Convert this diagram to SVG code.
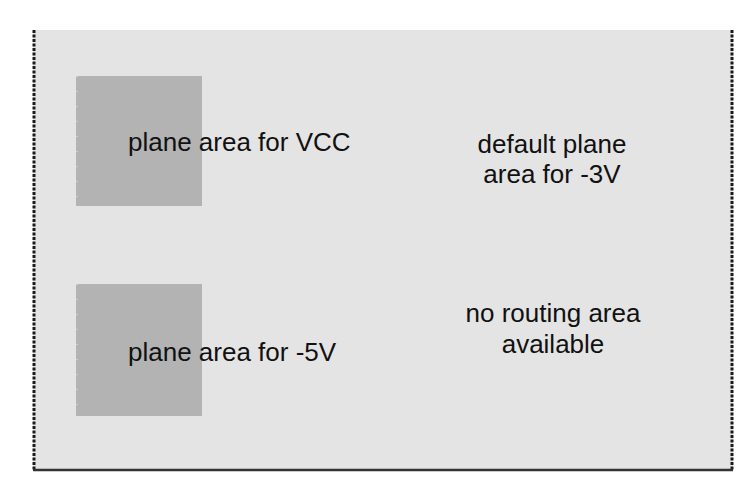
<svg xmlns="http://www.w3.org/2000/svg" width="755" height="502" viewBox="0 0 755 502">
<style>
.lbl{font-family:"Liberation Sans",Arial,sans-serif;font-size:26px;fill:#111}
.plane{fill:#b3b3b3}
.edge{stroke:#1a1a1a;stroke-width:3;stroke-dasharray:3 1.5;fill:none}
</style>
<rect x="0" y="0" width="755" height="502" fill="#ffffff"/>
<g id="board">
<rect x="33" y="30" width="700" height="440" fill="#e4e4e4"/>
<line class="edge" x1="34" y1="30" x2="34" y2="470"/>
<line class="edge" x1="732" y1="30" x2="732" y2="470"/>
<line x1="33" y1="470" x2="733" y2="470" stroke="#333333" stroke-width="2.5"/>
</g>
<g id="vcc">
<rect class="plane" x="76" y="76" width="126" height="130"/>
<line x1="77" y1="76" x2="77" y2="206" stroke="#e8e8e8" stroke-width="1" stroke-dasharray="1 14"/>
<text class="lbl" x="128" y="151">plane area for VCC</text>
</g>
<g id="m5v">
<rect class="plane" x="76" y="284" width="126" height="132"/>
<line x1="77" y1="284" x2="77" y2="416" stroke="#e8e8e8" stroke-width="1" stroke-dasharray="1 14"/>
<text class="lbl" x="128" y="361">plane area for -5V</text>
</g>
<g id="m3v">
<text class="lbl" x="552" y="153" text-anchor="middle">default plane</text>
<text class="lbl" x="552" y="183" text-anchor="middle">area for -3V</text>
</g>
<g id="norouting">
<text class="lbl" x="553" y="322" text-anchor="middle">no routing area</text>
<text class="lbl" x="553" y="353" text-anchor="middle">available</text>
</g>
<g id="connectors"></g>
</svg>
